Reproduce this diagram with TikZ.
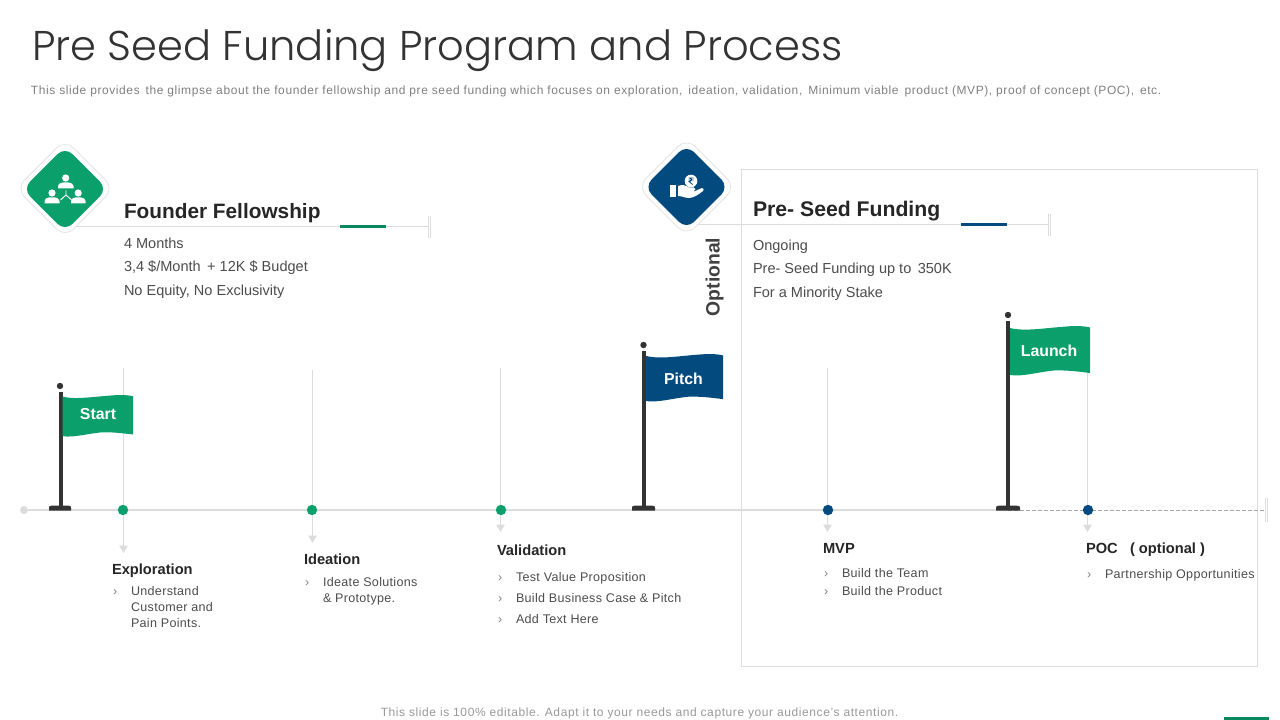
\documentclass[tikz,border=0pt]{standalone}
\usepackage{fontspec}
\usetikzlibrary{arrows.meta}
\setmainfont{Liberation Sans}
\newfontfamily\titlefont{Poppins}[UprightFont=* Light]
\definecolor{fgreen}{HTML}{0BA06B}
\definecolor{fblue}{HTML}{034A7F}
\definecolor{rulegray}{HTML}{DCDCDC}
\definecolor{poledark}{HTML}{333333}
\newcommand{\wavyflag}[5]{%
  \begin{scope}[shift={(#2,#3)},xscale=#4,yscale=#5]
    \fill[#1] (0,.04) .. controls (.2,.12) and (.45,.03) .. (.8,0) .. controls (.9,0) and (.95,.01) .. (1,.03)
      -- (1,.94) .. controls (.85,.91) and (.7,.88) .. (.55,.89) .. controls (.35,.92) and (.15,1.02) .. (0,.98) -- cycle;
  \end{scope}}
\newcommand{\flagpole}[5]{%
  \fill[poledark] (#1,#2) circle (3.2);
  \fill[poledark] (#5-1.9,#2+6) rectangle (#5+1.9,506);
  \fill[poledark] (#1-#3,510.5) -- (#1-#3,508) .. controls (#1-#3,506) .. (#1-#4,505.5) -- (#1+#4,505.5) .. controls (#1+#3,506) .. (#1+#3,508) -- (#1+#3,510.5) -- cycle;}
\tikzset{
  x=0.75pt,y=-0.75pt,
  txt/.style={anchor=base west,inner sep=0pt,outer sep=0pt,text=#1},
  txt/.default={black!70},
  headtxt/.style={txt=black!85,font=\bfseries\fontsize{15.6}{20}\selectfont},
  bodytxt/.style={txt=black!70,font=\fontsize{10.9}{13}\selectfont},
  steptxt/.style={txt=black!85,font=\bfseries\fontsize{11}{13}\selectfont},
  itemtxt/.style={txt=black!70,font=\fontsize{9.4}{11}\selectfont\addfontfeature{LetterSpace=2.6}},
  bullettxt/.style={txt=black!50,font=\fontsize{9.4}{11}\selectfont},
  flagtxt/.style={inner sep=0pt,text=white,font=\bfseries\fontsize{11.9}{14}\selectfont},
  hline/.style={draw=rulegray,line width=0.9pt},
  vline/.style={draw=rulegray,line width=0.9pt,-{Triangle[width=6.2pt,length=5.5pt,fill=rulegray]}},
  dot/.style={circle,inner sep=0pt,minimum size=7.8pt,fill=#1},
  outerdia/.style={rectangle,rotate=45,minimum size=52pt,inner sep=0pt,rounded corners=9pt,fill=white,draw=black!10,line width=0.6pt},
  innerdia/.style={rectangle,rotate=45,minimum size=45pt,inner sep=0pt,rounded corners=8pt,fill=#1},
}
\begin{document}
\begin{tikzpicture}
\useasboundingbox (0,0) rectangle (1280,720);
\fill[white] (0,0) rectangle (1280,720);

\node[txt=black!80,font=\titlefont\fontsize{31.2}{40}\selectfont] (title) at (32,60.5) {Pre Seed Funding Program and Process};
\node[txt=black!50,font=\fontsize{9}{11}\selectfont\addfontfeature{LetterSpace=4.9}] (sub) at (31,94.5) {This slide provides\, the glimpse about the founder fellowship and pre seed funding which focuses on exploration,\, ideation, validation,\, Minimum viable\, product (MVP), proof of concept (POC),\, etc.};
\node[text=black!40,inner sep=0pt,font=\fontsize{9}{11}\selectfont\addfontfeature{LetterSpace=4.9}] (foot) at (639.5,713.5) {This slide is 100\%\ editable. Adapt it to your needs and capture your audience's attention.};
\fill[fgreen!85!black] (1224,717) rectangle (1269,720);

% box
\node[draw=rulegray,line width=0.75pt,minimum width=387pt,minimum height=372pt,inner sep=0pt,anchor=north west,outer sep=0pt] (box) at (741,170) {};

% header rules
\coordinate (ffend) at (428,226.5);
\coordinate (psend) at (1048,224.5);
\coordinate (ff1) at (340,226.5); \coordinate (ff2) at (386,226.5);
\coordinate (ps1) at (961,224.5); \coordinate (ps2) at (1007,224.5);
\coordinate (ffstart) at (64,226.5);
\coordinate (psstart) at (686,224.5);
\draw[hline] (ffstart) -- (ffend);
\draw[hline] (psstart) -- (psend);
\draw[draw=fgreen!85!black,line width=2.4pt] (ff1) -- (ff2);
\draw[draw=fblue,line width=2.4pt] (ps1) -- (ps2);
\foreach \x in {428,430} \draw[rulegray,line width=0.6pt] (\x,216) -- (\x,238);
\foreach \x in {1048,1050} \draw[rulegray,line width=0.6pt] (\x,214) -- (\x,236);

% diamonds
\node[outerdia] (d1o) at (65,188.5) {};
\node[innerdia=fgreen] (d1) at (65,189) {};
\node[outerdia] (d2o) at (686.5,187) {};
\node[innerdia=fblue] (d2) at (686.5,187) {};

% people icon
\begin{scope}[white]
  \fill (65.7,178) circle (3.6);
  \fill (58,188.5) -- (58,186) .. controls (59,183.5) .. (63,182.5) -- (68.5,182.5) .. controls (72.5,183.5) .. (73.5,186) -- (73.5,188.5) -- cycle;
  \fill (52,193) circle (3.6);
  \fill (44.5,203.5) -- (44.5,201) .. controls (45.5,198.5) .. (49,197.5) -- (55,197.5) .. controls (58.5,198.5) .. (59.5,201) -- (59.5,203.5) -- cycle;
  \fill (78.2,193) circle (3.6);
  \fill (71,203.5) -- (71,201) .. controls (72,198.5) .. (75.5,197.5) -- (81,197.5) .. controls (84.5,198.5) .. (85.5,201) -- (85.5,203.5) -- cycle;
  \draw[line width=0.7pt] (66,190.5) -- (66,195) (66,195) -- (60.5,200) (66,195) -- (71.5,200);
\end{scope}
% hand icon
\begin{scope}
  \fill[white] (670,185) rectangle (676,197);
  \fill[white] (678,186) .. controls (682,184.5) and (686,185) .. (689,187.5) -- (694,187.5) .. controls (696,188) and (696,191) .. (693.5,191.5) -- (694,191.5) .. controls (698,190) and (700,188.5) .. (702,188) .. controls (704,188) and (704,190) .. (703,191) .. controls (698,195) and (693,198) .. (689,198) .. controls (685,198) and (682,196) .. (678,196) -- cycle;
  \fill[white] (691,181) circle (6.3);
  \draw[fblue,line width=0.6pt] (688.5,178) -- (693.5,178) (688.5,180) -- (693.5,180) (689,178) .. controls (692.5,178) and (692.5,181.5) .. (689,181.5) -- (692.5,184.5);
\end{scope}

% section texts
\node[headtxt] (fft) at (124,218.5) {Founder Fellowship};
\node[bodytxt] (ff_a) at (124,248) {4 Months};
\node[bodytxt] (ff_b) at (124,272) {3,4 \$/Month\, + 12K \$ Budget};
\node[bodytxt] (ff_c) at (124,295) {No Equity, No Exclusivity};
\node[headtxt,font=\bfseries\fontsize{15.9}{20}\selectfont] (pst) at (753,216.5) {Pre- Seed Funding};
\node[bodytxt] (ps_a) at (753,250) {Ongoing};
\node[bodytxt] (ps_b) at (753,273) {Pre- Seed Funding up to\, 350K};
\node[bodytxt] (ps_c) at (753,297) {For a Minority Stake};
\node[rotate=90,inner sep=0pt,text=black!75,font=\bfseries\fontsize{14.5}{18}\selectfont] (opt) at (714.5,277) {Optional};

% timeline
\node[circle,inner sep=0pt,minimum size=6pt,fill=rulegray] (t0) at (24,510) {};
\coordinate (tbase) at (1008,510);
\coordinate (tend) at (1265,510);
\draw[hline] (t0) -- (tbase);
\draw[draw=black!35,line width=0.6pt,dash pattern=on 3pt off 1.5pt] (tbase) -- (tend);
\foreach \x in {1265,1267} \draw[rulegray,line width=0.6pt] (\x,498) -- (\x,522);

% verticals
\coordinate (v1a) at (123.5,368); \coordinate (v1b) at (123.5,553);
\coordinate (v2a) at (312.5,370); \coordinate (v2b) at (312.5,543);
\coordinate (v3a) at (500.5,368); \coordinate (v3b) at (500.5,532);
\coordinate (v4a) at (827.5,368); \coordinate (v4b) at (827.5,532);
\coordinate (v5a) at (1087.5,370);\coordinate (v5b) at (1087.5,532);
\draw[vline] (v1a) -- (v1b);
\draw[vline] (v2a) -- (v2b);
\draw[vline] (v3a) -- (v3b);
\draw[vline] (v4a) -- (v4b);
\draw[vline] (v5a) -- (v5b);
\node[dot=fgreen] (p1) at (123,510) {};
\node[dot=fgreen] (p2) at (312,510) {};
\node[dot=fgreen] (p3) at (501,510) {};
\node[dot=fblue] (p4) at (828,510) {};
\node[dot=fblue] (p5) at (1088,510) {};

% flags
\flagpole{60}{386}{11}{7}{61}
\flagpole{643.5}{345}{11.5}{7}{644}
\flagpole{1008}{315}{12}{7}{1008}
\wavyflag{fgreen}{62.7}{395}{70.3}{42}
\wavyflag{fblue}{646}{354}{77}{48}
\wavyflag{fgreen}{1010}{326}{80}{50}
\node[flagtxt] (fs) at (98,414.5) {Start};
\node[flagtxt] (fp) at (683.5,378.5) {Pitch};
\node[flagtxt] (fl) at (1049,350.5) {Launch};

% step labels
\node[steptxt] (s1) at (112,574) {Exploration};
\node[bullettxt] (b1) at (113,595) {›};
\node[itemtxt] (i1a) at (131,595) {Understand};
\node[itemtxt] (i1b) at (131,611) {Customer and};
\node[itemtxt] (i1c) at (131,627) {Pain Points.};

\node[steptxt] (s2) at (304,564) {Ideation};
\node[bullettxt] (b2) at (305,586) {›};
\node[itemtxt] (i2a) at (323,586) {Ideate Solutions};
\node[itemtxt] (i2b) at (323,602) {\& Prototype.};

\node[steptxt] (s3) at (497,555) {Validation};
\node[bullettxt] (b3a) at (498,581) {›};
\node[itemtxt] (i3a) at (516,581) {Test Value Proposition};
\node[bullettxt] (b3b) at (498,602) {›};
\node[itemtxt] (i3b) at (516,602) {Build Business Case \& Pitch};
\node[bullettxt] (b3c) at (498,623) {›};
\node[itemtxt] (i3c) at (516,623) {Add Text Here};

\node[steptxt] (s4) at (823,553) {MVP};
\node[bullettxt] (b4a) at (824,577) {›};
\node[itemtxt] (i4a) at (842,577) {Build the Team};
\node[bullettxt] (b4b) at (824,595) {›};
\node[itemtxt] (i4b) at (842,595) {Build the Product};

\node[steptxt] (s5) at (1086,553) {POC\ \ \ ( optional )};
\node[bullettxt] (b5) at (1087,578) {›};
\node[itemtxt] (i5) at (1105,578) {Partnership Opportunities};
\end{tikzpicture}
\end{document}
